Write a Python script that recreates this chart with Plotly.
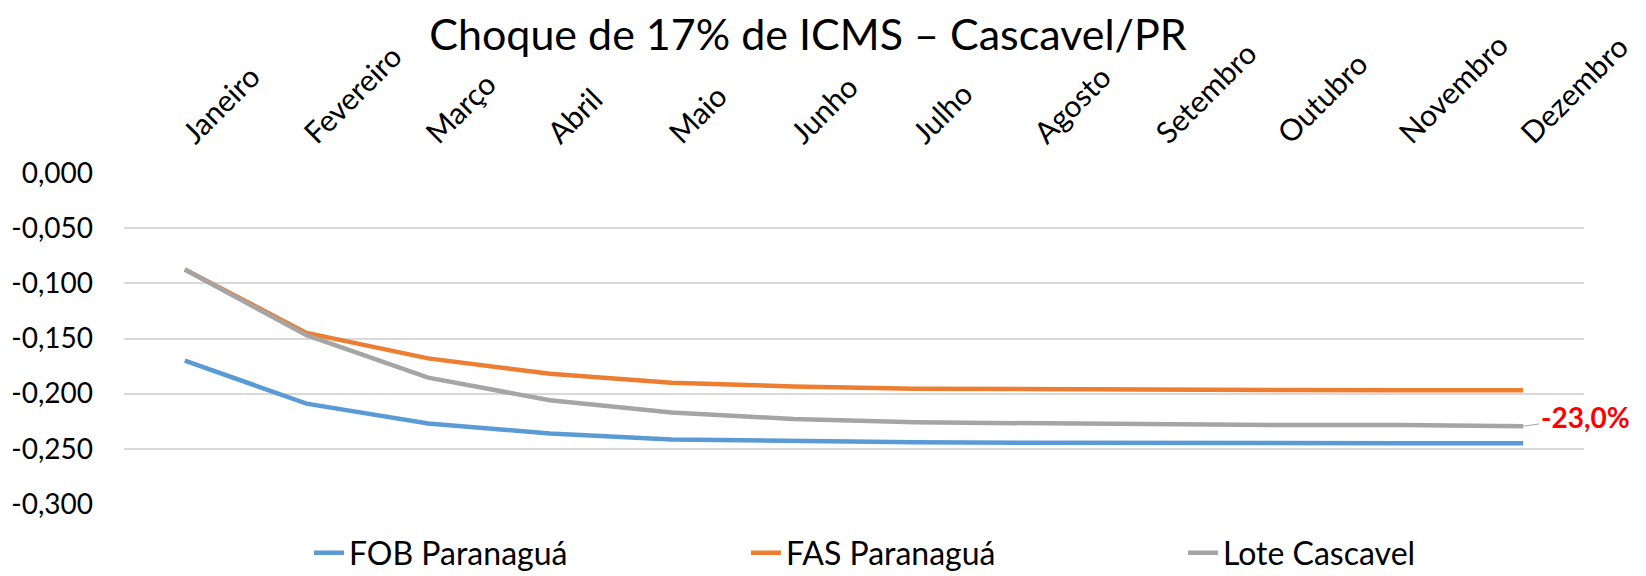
import plotly.graph_objects as go

months = ["Janeiro", "Fevereiro", "Março", "Abril", "Maio", "Junho", "Julho",
          "Agosto", "Setembro", "Outubro", "Novembro", "Dezembro"]
fob = [-0.170, -0.209, -0.227, -0.236, -0.2415, -0.243, -0.244, -0.2445, -0.245, -0.245, -0.245, -0.245]
fas = [-0.0875, -0.145, -0.168, -0.182, -0.190, -0.1935, -0.1955, -0.196, -0.197, -0.197, -0.197, -0.197]
lote = [-0.0875, -0.147, -0.1855, -0.206, -0.217, -0.223, -0.226, -0.227, -0.228, -0.2285, -0.2285, -0.2295]
ytick_vals = [0, -0.05, -0.1, -0.15, -0.2, -0.25, -0.3]
ytick_text = ["0,000", "-0,050", "-0,100", "-0,150", "-0,200", "-0,250", "-0,300"]
title = "Choque de 17% de ICMS – Cascavel/PR"
label = "-23,0%"

FONT = "Lato"
W, H = 1638, 568  # page body has an 8px default margin

fig = go.Figure()
for name, vals, color in [("FOB Paranaguá", fob, "#5B9BD5"),
                          ("FAS Paranaguá", fas, "#ED7D31"),
                          ("Lote Cascavel", lote, "#A5A5A5")]:
    fig.add_trace(go.Scatter(x=months, y=vals, name=name, mode="lines",
                             line=dict(color=color, width=4.5)))

fig.add_annotation(x=months[-1], y=lote[-1], text=f"<b>{label}</b>",
                   showarrow=True, arrowhead=0, arrowwidth=1, arrowcolor="#A5A5A5",
                   ax=62, ay=-9, xanchor="center",
                   font=dict(family=FONT, size=28, color="#FF0000"))

fig.update_layout(
    width=W, height=H,
    paper_bgcolor="white", plot_bgcolor="white",
    margin=dict(l=116, r=62, t=165, b=72),
    font=dict(family=FONT, size=30, color="#000000"),
    title=dict(text=title, x=0.4884, xanchor="center", y=0.9525, yanchor="middle",
               font=dict(family=FONT, size=43, color="#000000")),
    showlegend=True,
    legend=dict(orientation="h", x=0.1267, xanchor="left",
                yref="container", y=0.089, yanchor="top",
                entrywidth=392, entrywidthmode="pixels", borderwidth=0,
                font=dict(family=FONT, size=32), itemwidth=30),
    xaxis=dict(type="category", side="top", tickangle=-45, showgrid=False,
               range=[-0.5, 11.5], automargin=False, ticklabelstandoff=16,
               showline=False, ticks="", tickfont=dict(family=FONT, size=30)),
    yaxis=dict(range=[-0.3, 0], tickvals=ytick_vals, ticktext=ytick_text,
               showgrid=True, gridcolor="#D9D9D9", gridwidth=1.5, zeroline=False,
               showline=False, ticks="", ticklabelstandoff=30, automargin=False,
               tickfont=dict(family=FONT, size=28)),
)

fig.write_html("out.html")
